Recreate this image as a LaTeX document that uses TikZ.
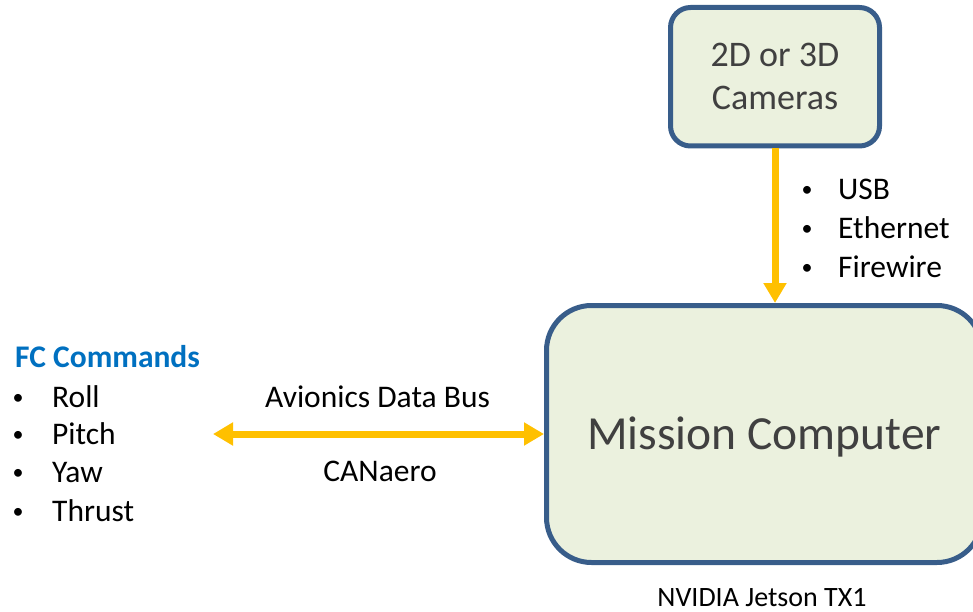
\documentclass[tikz,border=0pt]{standalone}
\usepackage{fontspec}
\setmainfont{Carlito}
\usetikzlibrary{arrows.meta}
\definecolor{boxfill}{RGB}{235,241,222}
\definecolor{boxline}{RGB}{56,93,138}
\definecolor{busyellow}{RGB}{255,192,0}
\definecolor{fcblue}{RGB}{0,112,192}
\definecolor{boxtext}{RGB}{64,64,64}
\begin{document}
\begin{tikzpicture}[x=1pt,y=-1pt,
  box/.style={draw=boxline, line width=5pt, fill=boxfill, text=boxtext, inner sep=0pt},
  bus/.style={draw=busyellow, line width=7pt},
  txt/.style={font=\fontsize{31.5}{38}\selectfont, inner sep=0pt, anchor=base},
  itm/.style={txt, anchor=base west},
  bul/.style={inner sep=0pt, anchor=base west, font=\fontsize{22}{26}\selectfont},
]
\useasboundingbox (0,0) rectangle (973,612);

% boxes
\node[box, rounded corners=20pt, minimum width=209pt, minimum height=138.5pt,
      align=center, font=\fontsize{36}{43}\selectfont] (cam) at (775,76.75) {2D or 3D\\Cameras};
\node[box, rounded corners=45pt, minimum width=435.5pt, minimum height=257pt,
      font=\fontsize{47.5}{57}\selectfont, text height=30.5pt, text depth=0pt] (mc) at (764.25,434) {Mission Computer};

% connectors
\draw[bus, -{Triangle[width=22pt,length=20pt]}] (cam.south) -- (cam.south |- mc.north);
\coordinate (fcend) at (213,434);
\draw[bus, {Triangle[width=22pt,length=20pt]}-{Triangle[width=22pt,length=20pt]}] (fcend) -- (mc.west);

% interface list
\node[bul] (b1) at (801.5,197) {•};
\node[itm] (usb) at (838,200) {USB};
\node[bul] (b2) at (801.5,235) {•};
\node[itm] (eth) at (838,238) {Ethernet};
\node[bul] (b3) at (801.5,274) {•};
\node[itm] (fw) at (838,277) {Firewire};

% FC commands
\node[itm, font=\fontsize{31.5}{38}\selectfont\bfseries, text=fcblue] (fc) at (15,367) {FC Commands};
\node[bul] (l1) at (12.5,404) {•};
\node[itm] (roll) at (52,407) {Roll};
\node[bul] (l2) at (12.5,441) {•};
\node[itm] (pitch) at (52,444) {Pitch};
\node[bul] (l3) at (12.5,479) {•};
\node[itm] (yaw) at (52,482) {Yaw};
\node[bul] (l4) at (12.5,518) {•};
\node[itm] (thrust) at (52,521) {Thrust};

% bus labels
\node[txt] (adb) at (377.5,407) {Avionics Data Bus};
\node[txt] (can) at (380,481) {CANaero};

% platform label
\node[txt, font=\fontsize{28}{34}\selectfont] (nv) at (762,606) {NVIDIA Jetson TX1};
\end{tikzpicture}
\end{document}
